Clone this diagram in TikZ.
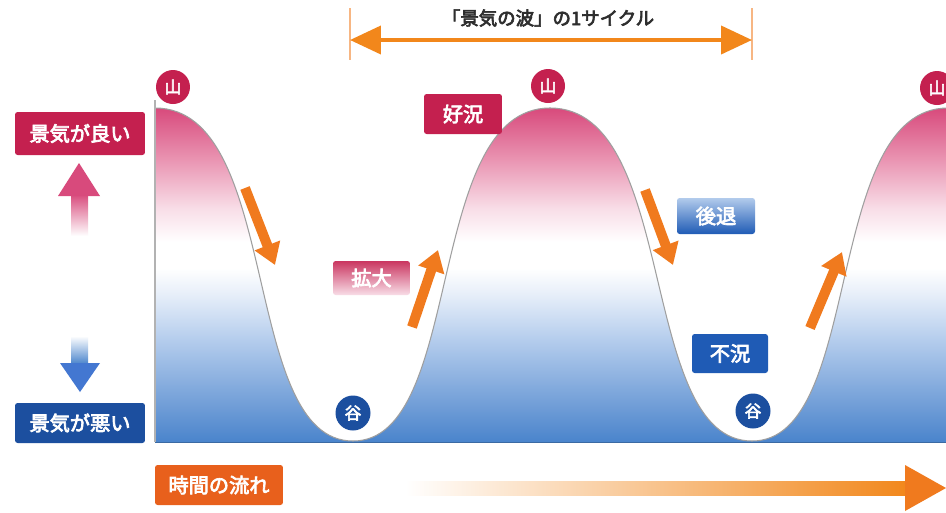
\documentclass[tikz,border=0pt]{standalone}
\usepackage{fontspec}
\newfontfamily\jp{Noto Sans CJK JP}[FakeBold=3.5]
\usetikzlibrary{arrows.meta}
\definecolor{crimson}{HTML}{C4204F}
\definecolor{navy}{HTML}{1C4F9F}
\definecolor{blueC}{HTML}{1F5BB5}
\definecolor{orangeA}{HTML}{F07A1E}
\definecolor{orangeB}{HTML}{E8601C}
\definecolor{titlegray}{HTML}{2E2E2E}
\definecolor{sB0}{HTML}{4A84CC}
\definecolor{sB1}{HTML}{74A0D8}
\definecolor{sB2}{HTML}{B2CBEC}
\definecolor{sB3}{HTML}{E6EEF9}
\definecolor{sP1}{HTML}{F8DDE7}
\definecolor{sP2}{HTML}{EA97B4}
\definecolor{sP3}{HTML}{D84A7C}
\pgfdeclareverticalshading{econ}{100bp}{color(0bp)=(sB0); color(25bp)=(sB0); color(31bp)=(sB1); color(40bp)=(sB2); color(47bp)=(sB3); color(51bp)=(white); color(55bp)=(white); color(60bp)=(sP1); color(67bp)=(sP2); color(75bp)=(sP3); color(100bp)=(sP3)}
\begin{document}
\begin{tikzpicture}[x=0.02cm,y=-0.02cm,
  labelbox/.style={rectangle, rounded corners=1.5pt, inner sep=0pt, text=white, font=\jp\fontsize{11.5}{12}\selectfont},
  badge/.style={circle, inner sep=0pt, minimum size=0.68cm, text=white, font=\jp\fontsize{9.5}{10}\selectfont},
  trend/.style={draw=orangeA, line width=0.2cm, -{Triangle[length=0.42cm,width=0.52cm]}},
  curveline/.style={draw=gray!75, line width=0.6pt}]
\useasboundingbox (0,0) rectangle (946,512);
\fill[white] (0,0) rectangle (946,512);

% wave fill
\path[shading=econ] (155,442) -- (155,108) .. controls (282,108) and (240,441) .. (353,441) .. controls (465,441) and (424,108) .. (550,108) .. controls (679,108) and (637,441) .. (752,441) .. controls (864,441) and (823,108) .. (948,108) -- (948,442) -- cycle;
\draw[curveline] (155,108) .. controls (282,108) and (240,441) .. (353,441) .. controls (465,441) and (424,108) .. (550,108) .. controls (679,108) and (637,441) .. (752,441) .. controls (864,441) and (823,108) .. (948,108);
\draw[gray!60, line width=0.6pt] (155,100) -- (155,442);
\draw[sB0!80!black, line width=0.5pt] (155,442) -- (946,442);

% cycle marker
\draw[orangeA!55, line width=0.6pt] (350,8) -- (350,60);
\draw[orangeA!55, line width=0.6pt] (752,8) -- (752,60);
\coordinate (cycL) at (350,40);
\coordinate (cycR) at (752,40);
\draw[draw=orangeA!90!yellow, line width=0.08cm, {Triangle[length=0.62cm,width=0.56cm]}-{Triangle[length=0.62cm,width=0.56cm]}] (cycL) -- (cycR);
\node[text=titlegray, font=\jp\fontsize{10.5}{11}\selectfont] (title) at (548,18) {「景気の波」の1サイクル};

% peaks and troughs
\node[badge, fill=crimson] (peak1) at (173,87) {山};
\node[badge, fill=crimson] (peak2) at (548,86) {山};
\node[badge, fill=crimson] (peak3) at (937,88) {山};
\node[badge, fill=navy, minimum size=0.7cm] (trough1) at (353,413) {谷};
\node[badge, fill=navy, minimum size=0.7cm] (trough2) at (753,411) {谷};

% phase labels
\node[labelbox, fill=crimson, minimum width=1.56cm, minimum height=0.8cm] (boom) at (463,114) {好況};
\node[labelbox, top color=crimson!90!white, bottom color=sP1, minimum width=1.54cm, minimum height=0.68cm] (expand) at (371.5,278) {拡大};
\node[labelbox, top color=sB2, bottom color=blueC, minimum width=1.56cm, minimum height=0.72cm] (recess) at (716,216) {後退};
\node[labelbox, fill=blueC, minimum width=1.52cm, minimum height=0.78cm] (slump) at (730,353.5) {不況};

% trend arrows
\coordinate (a1s) at (245,188); \coordinate (a1e) at (275,265);
\coordinate (a2s) at (412,327); \coordinate (a2e) at (438,250);
\coordinate (a3s) at (645,190); \coordinate (a3e) at (673,265);
\coordinate (a4s) at (810,328); \coordinate (a4e) at (842,252);
\draw[trend] (a1s) -- (a1e);
\draw[trend] (a2s) -- (a2e);
\draw[trend] (a3s) -- (a3e);
\draw[trend] (a4s) -- (a4e);

% left scale
\node[labelbox, fill=crimson, minimum width=2.6cm, minimum height=0.86cm] (good) at (80,133.5) {景気が良い};
\node[labelbox, fill=navy, minimum width=2.6cm, minimum height=0.8cm] (bad) at (80,423) {景気が悪い};
\shade[top color=sP3, bottom color=white] (71,194) rectangle (88,236);
\fill[sP3] (79,163) -- (100,196) -- (58,196) -- cycle;
\shade[top color=white, bottom color=sB0] (71,336) rectangle (88,364);
\fill[sB0!90!blue] (60,363) -- (100,363) -- (80,392) -- cycle;

% time axis
\node[labelbox, fill=orangeB, minimum width=2.56cm, minimum height=0.8cm] (time) at (219,485) {時間の流れ};
\shade[left color=white, right color=orangeA!90!yellow] (405,481) rectangle (908,495);
\fill[orangeA] (905,465) -- (946,488) -- (905,511) -- cycle;
\end{tikzpicture}
\end{document}
